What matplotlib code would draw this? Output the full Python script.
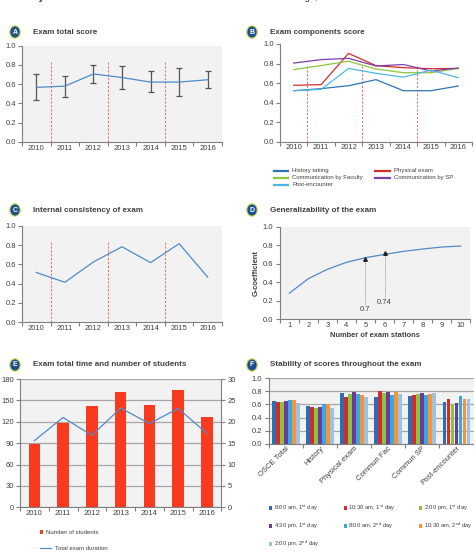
import matplotlib
matplotlib.use("Agg")
import matplotlib.pyplot as plt
from matplotlib.patches import Circle, Rectangle
from matplotlib.lines import Line2D
import numpy as np

plt.rcParams['font.family'] = ['Liberation Sans', 'DejaVu Sans']
plt.rcParams['mathtext.fontset'] = 'custom'
plt.rcParams['mathtext.rm'] = 'Liberation Sans'
plt.rcParams['mathtext.it'] = 'Liberation Sans'

# ---------------- data ----------------
years = ["2010", "2011", "2012", "2013", "2014", "2015", "2016"]

# A: exam total score
total_mean = [0.566, 0.579, 0.705, 0.668, 0.621, 0.621, 0.645]
total_low = [0.431, 0.469, 0.610, 0.548, 0.517, 0.476, 0.559]
total_high = [0.707, 0.686, 0.797, 0.786, 0.738, 0.766, 0.738]

# B: components
comp_names = ["History taking", "Physical exam", "Communication by Faculty",
              "Communication by SP", "Post-encounter"]
hist_taking = [0.522, 0.543, 0.573, 0.635, 0.522, 0.522, 0.570]
phys_exam = [0.577, 0.584, 0.904, 0.778, 0.758, 0.747, 0.750]
comm_fac = [0.737, 0.780, 0.823, 0.744, 0.706, 0.706, 0.750]
comm_sp = [0.805, 0.840, 0.853, 0.775, 0.790, 0.724, 0.754]
post_enc = [0.522, 0.536, 0.750, 0.700, 0.660, 0.733, 0.655]

# C: internal consistency
alpha = [0.516, 0.414, 0.625, 0.782, 0.618, 0.814, 0.467]

# D: generalizability
stations = ["1", "2", "3", "4", "5", "6", "7", "8", "9", "10"]
g_coef = [0.278, 0.437, 0.538, 0.614, 0.664, 0.700, 0.733, 0.758, 0.780, 0.790]
obs_station = [4, 5]
obs_value = [0.646, 0.711]
obs_labels = ["0.7", "0.74"]

# E: total time and number of students
n_students = [89, 118, 142, 162, 143, 165, 126]
duration = [15.6, 21.0, 16.8, 23.2, 19.6, 23.1, 17.3]

# F: stability
f_cats = ["OSCE Total", "History", "Physical exam", "Commun Fac", "Commun SP", "Post-encounter"]
f_series = [r"8:00 am, 1$^{\rm st}$ day", r"10:30 am, 1$^{\rm st}$ day", r"2:00 pm, 1$^{\rm st}$ day",
            r"4:30 pm, 1$^{\rm st}$ day", r"8:00 am, 2$^{\rm nd}$ day", r"10:30 am, 2$^{\rm nd}$ day",
            r"2:00 pm, 2$^{\rm nd}$ day"]
f_values = [
    [0.653, 0.582, 0.770, 0.709, 0.730, 0.633],
    [0.638, 0.566, 0.719, 0.806, 0.750, 0.689],
    [0.638, 0.551, 0.755, 0.776, 0.760, 0.607],
    [0.653, 0.566, 0.790, 0.790, 0.780, 0.617],
    [0.668, 0.607, 0.760, 0.745, 0.750, 0.730],
    [0.663, 0.607, 0.745, 0.796, 0.760, 0.684],
    [0.622, 0.551, 0.709, 0.755, 0.776, 0.684],
]
f_colors = ["#2e6db4", "#d12c2c", "#8cc43f", "#6b3a9e", "#3aa8e0", "#f5943a", "#9cc2e5"]

# ---------------- figure ----------------
W, H = 474, 559
fig = plt.figure(figsize=(W / 100, H / 100), dpi=100)

TXT = "#404040"
SPINE = "#7f7f7f"
BG = "#f2f2f2"
TS = 5.5


def fx(x):
    return x / W


def fy(y):
    return 1 - y / H


def box(l, t, r, b):
    return [l / W, 1 - b / H, (r - l) / W, (b - t) / H]


def badge(x, y, letter):
    c = Circle((fx(x), fy(y)), 5.2 / W, transform=fig.transFigure,
               facecolor="#1d4f91", edgecolor="#c9d94a", lw=0.8, zorder=5)
    fig.patches.append(c)
    fig.text(fx(x), fy(y), letter, color="white", fontsize=5, fontweight="bold",
             ha="center", va="center", zorder=6)


def title(x, y, s):
    fig.text(fx(x), fy(y), s, fontsize=5.8, fontweight="bold", color=TXT,
             ha="left", va="center")


def style(ax, bg=BG):
    ax.set_facecolor(bg)
    for s in ["top", "right"]:
        ax.spines[s].set_visible(False)
    for s in ["left", "bottom"]:
        ax.spines[s].set_color(SPINE)
        ax.spines[s].set_linewidth(0.8)
    ax.tick_params(axis="both", colors=SPINE, labelcolor=TXT, labelsize=TS,
                   length=3, width=0.8, direction="out", pad=1.5)


def cat_axis(ax, labels, rotation=0, ha="center"):
    n = len(labels)
    ax.set_xlim(-0.5, n - 0.5)
    ax.set_xticks(np.arange(-0.5, n, 1.0))
    ax.set_xticklabels([])
    ax.set_xticks(np.arange(n), minor=True)
    ax.set_xticklabels(labels, minor=True, rotation=rotation, ha=ha,
                       rotation_mode="anchor" if rotation else "default")
    ax.tick_params(axis="x", which="minor", length=0, labelsize=TS, labelcolor=TXT, pad=2)


def yr_axis(ax):
    ax.set_ylim(0, 1.0)
    ax.set_yticks(np.arange(0, 1.01, 0.2))
    ax.set_yticklabels([f"{v:.1f}" for v in np.arange(0, 1.01, 0.2)])


def dashes(ax, top):
    for xv in [0.5, 2.5, 4.5]:
        ax.plot([xv, xv], [0, top], color="#f0685a", lw=0.7, ls=(0, (2.2, 1.8)), zorder=1)


x7 = np.arange(len(years))

# fragments of page text
fig.text(fx(-2), fy(-3), "Reliability", fontsize=7, fontweight="bold", color="#222222",
         ha="left", va="center")
fig.text(fx(237), fy(-3), "on a nested design, and determined the G-coefficient to b",
         fontsize=6.6, color="#222222", ha="left", va="center")

# ---- A ----
axA = fig.add_axes(box(22, 45.5, 222, 142))
style(axA)
cat_axis(axA, years)
yr_axis(axA)
dashes(axA, 0.84)
yerr = [np.array(total_mean) - np.array(total_low), np.array(total_high) - np.array(total_mean)]
axA.errorbar(x7, total_mean, yerr=yerr, color="#4f8ac9", lw=0.9, ecolor="#555555",
             elinewidth=0.9, capsize=2.2, capthick=0.9, zorder=3)
badge(15, 32, "A")
title(33, 32, "Exam total score")

# ---- B ----
axB = fig.add_axes(box(280, 44, 472, 141.7))
style(axB, bg="white")
cat_axis(axB, years)
yr_axis(axB)
dashes(axB, 0.80)
b_series = [hist_taking, phys_exam, comm_fac, comm_sp, post_enc]
b_colors = ["#2f74b5", "#d62b2b", "#8dc63f", "#7f3fa8", "#4fb6e2"]
for name, vals, col in zip(comp_names, b_series, b_colors):
    axB.plot(x7, vals, color=col, lw=0.9, zorder=3)
# legend B (manual): (col x of line start, row y)
legB_pos = {"History taking": (273.7, 170.7), "Communication by Faculty": (273.7, 177.7),
            "Post-encounter": (273.7, 184.7), "Physical exam": (375.3, 170.7),
            "Communication by SP": (375.3, 177.7)}
for name, col in zip(comp_names, b_colors):
    x0, y0 = legB_pos[name]
    fig.add_artist(Line2D([fx(x0), fx(x0 + 14.5)], [fy(y0), fy(y0)],
                          transform=fig.transFigure, color=col, lw=1.6))
    fig.text(fx(x0 + 18.5), fy(y0), name, fontsize=4.3, color=TXT, ha="left", va="center")
badge(252, 32, "B")
title(270, 32, "Exam components score")

# ---- C ----
axC = fig.add_axes(box(22, 225.7, 222, 322.3))
style(axC)
cat_axis(axC, years)
yr_axis(axC)
dashes(axC, 0.84)
axC.plot(x7, alpha, color="#4f8ac9", lw=0.9, zorder=3)
badge(15, 210, "C")
title(33, 210, "Internal consistency of exam")

# ---- D ----
axD = fig.add_axes(box(279.7, 226.7, 470.3, 319))
style(axD)
x10 = np.arange(len(stations))
cat_axis(axD, stations)
yr_axis(axD)
axD.plot(x10, g_coef, color="#4f8ac9", lw=0.9, zorder=3)
axD.plot(obs_station, obs_value, ls="none", marker="^", color="#222222", ms=2.6, zorder=4)
lab_y = [0.105, 0.177]
for xs, yv, lab, ly in zip(obs_station, obs_value, obs_labels, lab_y):
    axD.plot([xs, xs], [ly + 0.06, yv - 0.02], color="#8c8c8c", lw=0.7,
             ls=(0, (1, 1.2)), zorder=2)
    axD.text(xs, ly, lab, fontsize=TS, color=TXT, ha="center", va="center")
axD.set_xlabel("Number of exam stations", fontsize=5.4, fontweight="bold", color=TXT,
               labelpad=2)
axD.set_ylabel("G-coefficient", fontsize=5.4, fontweight="bold", color=TXT, labelpad=2)
badge(252, 210, "D")
title(270, 210, "Generalizability of the exam")

# ---- E ----
axE = fig.add_axes(box(20, 379, 221.3, 507.3))
style(axE)
cat_axis(axE, years)
axE.set_ylim(0, 180)
axE.set_yticks(np.arange(0, 181, 30))
axE.yaxis.grid(True, color="#a6a6a6", lw=0.9, zorder=0)
axE.set_axisbelow(True)
axE.bar(x7, n_students, width=0.4, color="#f93a1e", zorder=2)
axE2 = axE.twinx()
axE2.set_ylim(0, 30)
axE2.set_yticks(np.arange(0, 31, 5))
for s in ["top", "left", "bottom"]:
    axE2.spines[s].set_visible(False)
axE2.spines["right"].set_color(SPINE)
axE2.spines["right"].set_linewidth(0.8)
axE2.tick_params(axis="y", colors=SPINE, labelcolor=TXT, labelsize=TS, length=3,
                 width=0.8, pad=1.5)
axE2.plot(x7, duration, color="#4f8ac9", lw=0.9, zorder=3)
# legend E (manual)
fig.add_artist(Rectangle((fx(39.8), fy(533.8)), 3.6 / W, 3.6 / H, transform=fig.transFigure,
                         facecolor="#f93a1e", edgecolor="none"))
fig.text(fx(45.5), fy(532), "Number of students", fontsize=4.3, color=TXT,
         ha="left", va="center")
fig.add_artist(Line2D([fx(39.5), fx(51)], [fy(548), fy(548)], transform=fig.transFigure,
                      color="#4f8ac9", lw=0.9))
fig.text(fx(55), fy(548), "Total exam duration", fontsize=4.3, color=TXT,
         ha="left", va="center")
badge(15, 365, "E")
title(33, 365, "Exam total time and number of students")

# ---- F ----
axF = fig.add_axes(box(268.7, 378.3, 473.5, 443.7))
style(axF)
cat_axis(axF, f_cats, rotation=45, ha="right")
axF.tick_params(axis="x", which="minor", pad=1)
yr_axis(axF)
axF.yaxis.grid(True, color="#a6a6a6", lw=0.9, zorder=0)
axF.set_axisbelow(True)
nS = len(f_series)
bw = 0.117
x6 = np.arange(len(f_cats))
for i, (lab, vals, col) in enumerate(zip(f_series, f_values, f_colors)):
    axF.bar(x6 + (i - (nS - 1) / 2) * bw, vals, width=bw * 0.95, color=col, zorder=2,
            label=lab)
# legend F (manual, 3 columns row-major)
col_x = [268.5, 343.5, 418.5]
row_y = [507.7, 525.7, 543.7]
for i, (lab, col) in enumerate(zip(f_series, f_colors)):
    r, c = divmod(i, 3)
    x0, y0 = col_x[c], row_y[r]
    fig.add_artist(Rectangle((fx(x0), fy(y0 + 1.8)), 3.6 / W, 3.6 / H,
                             transform=fig.transFigure, facecolor=col, edgecolor="none"))
    fig.text(fx(x0 + 5), fy(y0), lab, fontsize=4.2, color=TXT, ha="left", va="center")
badge(252, 365, "F")
title(270, 365, "Stability of scores throughout the exam")

fig.savefig("out.png", dpi=100)
